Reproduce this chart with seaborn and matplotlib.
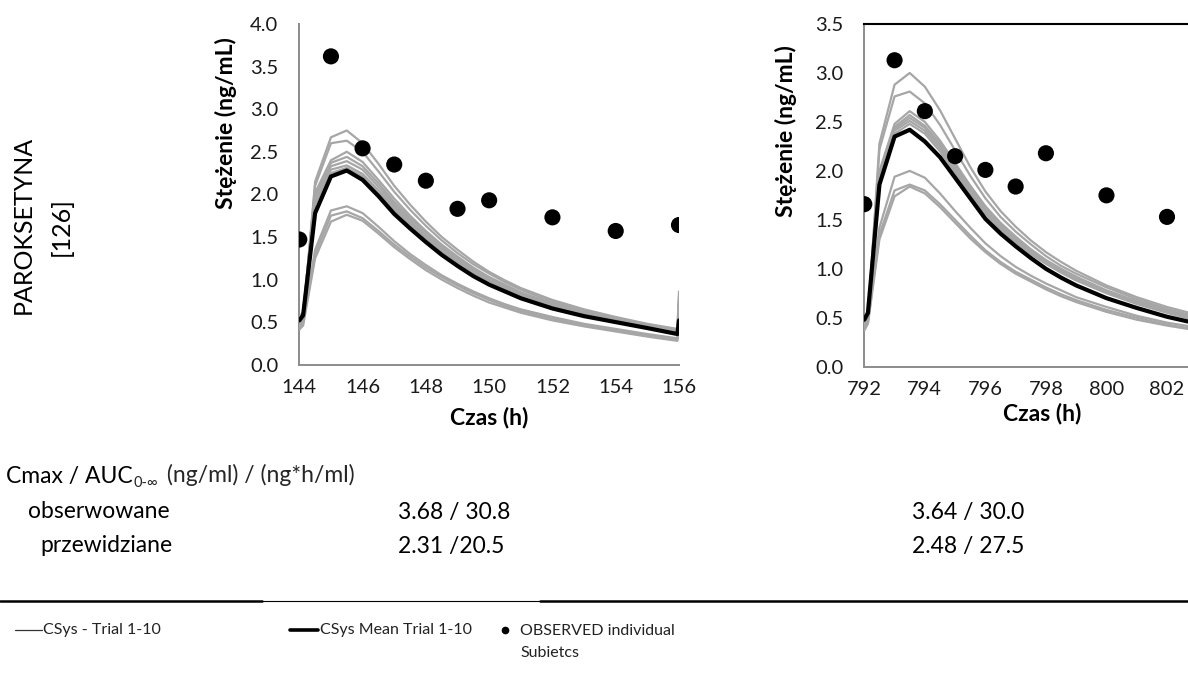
import matplotlib
matplotlib.use("Agg")
import matplotlib.pyplot as plt
import seaborn as sns
import pandas as pd
from matplotlib.lines import Line2D

# ---------------- data ----------------
t_left = [144, 144.12, 144.5, 145, 145.5, 146, 146.5, 147, 147.5, 148, 148.5, 149,
          149.5, 150, 150.5, 151, 152, 153, 154, 155, 155.95, 156]
mean_left = [0.52, 0.58, 1.78, 2.21, 2.28, 2.17, 1.98, 1.77, 1.60, 1.44, 1.29, 1.16,
             1.04, 0.94, 0.86, 0.78, 0.66, 0.57, 0.50, 0.43, 0.36, 0.52]
trials_left = [
    [0.47, 0.53, 2.15, 2.67, 2.75, 2.60, 2.36, 2.10, 1.88, 1.68, 1.50, 1.35, 1.21, 1.09, 0.99, 0.90, 0.76, 0.65, 0.56, 0.48, 0.42, 0.86],
    [0.50, 0.56, 2.10, 2.60, 2.63, 2.50, 2.27, 2.03, 1.82, 1.63, 1.46, 1.31, 1.18, 1.07, 0.97, 0.88, 0.74, 0.63, 0.55, 0.47, 0.41, 0.80],
    [0.55, 0.60, 2.02, 2.40, 2.50, 2.38, 2.17, 1.95, 1.75, 1.57, 1.41, 1.27, 1.14, 1.03, 0.94, 0.85, 0.72, 0.62, 0.54, 0.46, 0.40, 0.75],
    [0.53, 0.59, 1.98, 2.37, 2.44, 2.33, 2.13, 1.91, 1.72, 1.55, 1.39, 1.25, 1.12, 1.02, 0.93, 0.84, 0.71, 0.61, 0.53, 0.46, 0.40, 0.72],
    [0.56, 0.62, 1.95, 2.33, 2.39, 2.29, 2.09, 1.88, 1.69, 1.52, 1.37, 1.23, 1.11, 1.00, 0.91, 0.83, 0.70, 0.60, 0.52, 0.45, 0.39, 0.70],
    [0.54, 0.60, 1.90, 2.29, 2.34, 2.24, 2.05, 1.85, 1.66, 1.50, 1.35, 1.21, 1.09, 0.99, 0.90, 0.82, 0.69, 0.59, 0.51, 0.44, 0.38, 0.66],
    [0.52, 0.58, 1.88, 2.25, 2.31, 2.21, 2.02, 1.82, 1.64, 1.48, 1.33, 1.20, 1.08, 0.98, 0.89, 0.81, 0.69, 0.59, 0.51, 0.44, 0.38, 0.64],
    [0.45, 0.50, 1.35, 1.81, 1.86, 1.78, 1.62, 1.45, 1.30, 1.17, 1.05, 0.95, 0.86, 0.78, 0.71, 0.65, 0.56, 0.48, 0.42, 0.36, 0.31, 0.58],
    [0.43, 0.48, 1.30, 1.75, 1.80, 1.72, 1.57, 1.41, 1.27, 1.14, 1.03, 0.93, 0.84, 0.76, 0.69, 0.63, 0.54, 0.46, 0.40, 0.35, 0.30, 0.55],
    [0.41, 0.46, 1.25, 1.68, 1.76, 1.69, 1.54, 1.38, 1.24, 1.11, 1.00, 0.90, 0.81, 0.73, 0.67, 0.61, 0.52, 0.45, 0.39, 0.33, 0.28, 0.52],
]
obs_t_left = [144, 145, 146, 147, 148, 149, 150, 152, 154, 156]
obs_c_left = [1.47, 3.62, 2.54, 2.35, 2.16, 1.83, 1.93, 1.73, 1.57, 1.64]

t_right = [792, 792.12, 792.5, 793, 793.5, 794, 794.5, 795, 795.5, 796, 796.5, 797,
           797.5, 798, 798.5, 799, 800, 801, 802, 803]
mean_right = [0.48, 0.55, 1.86, 2.35, 2.42, 2.30, 2.14, 1.93, 1.72, 1.51, 1.36, 1.23,
              1.11, 1.00, 0.91, 0.83, 0.70, 0.60, 0.51, 0.44]
trials_right = [
    [0.40, 0.47, 2.28, 2.88, 3.00, 2.86, 2.62, 2.33, 2.04, 1.79, 1.59, 1.43, 1.29, 1.17, 1.07, 0.98, 0.83, 0.71, 0.61, 0.53],
    [0.42, 0.50, 2.22, 2.76, 2.81, 2.69, 2.47, 2.21, 1.95, 1.72, 1.53, 1.38, 1.25, 1.13, 1.03, 0.95, 0.81, 0.69, 0.59, 0.51],
    [0.46, 0.54, 2.00, 2.48, 2.61, 2.50, 2.31, 2.08, 1.85, 1.64, 1.47, 1.33, 1.20, 1.09, 1.00, 0.92, 0.78, 0.67, 0.58, 0.50],
    [0.47, 0.55, 1.97, 2.45, 2.57, 2.46, 2.28, 2.06, 1.83, 1.62, 1.45, 1.31, 1.19, 1.08, 0.99, 0.91, 0.77, 0.66, 0.57, 0.49],
    [0.45, 0.53, 1.94, 2.43, 2.54, 2.44, 2.26, 2.04, 1.81, 1.60, 1.44, 1.30, 1.18, 1.07, 0.98, 0.90, 0.77, 0.66, 0.56, 0.49],
    [0.48, 0.56, 1.92, 2.41, 2.51, 2.41, 2.23, 2.01, 1.79, 1.58, 1.42, 1.29, 1.17, 1.06, 0.97, 0.89, 0.76, 0.65, 0.56, 0.48],
    [0.44, 0.52, 1.90, 2.38, 2.48, 2.38, 2.20, 1.98, 1.77, 1.56, 1.40, 1.27, 1.15, 1.05, 0.96, 0.88, 0.75, 0.64, 0.55, 0.47],
    [0.42, 0.49, 1.42, 1.94, 2.00, 1.93, 1.77, 1.59, 1.42, 1.26, 1.13, 1.02, 0.93, 0.85, 0.78, 0.71, 0.61, 0.52, 0.45, 0.40],
    [0.38, 0.45, 1.35, 1.80, 1.86, 1.80, 1.66, 1.50, 1.34, 1.19, 1.07, 0.97, 0.89, 0.81, 0.74, 0.68, 0.58, 0.50, 0.43, 0.38],
    [0.37, 0.44, 1.30, 1.74, 1.84, 1.77, 1.63, 1.47, 1.31, 1.17, 1.05, 0.95, 0.87, 0.79, 0.72, 0.66, 0.56, 0.48, 0.42, 0.37],
]
obs_t_right = [792, 793, 794, 795, 796, 797, 798, 800, 802]
obs_c_right = [1.66, 3.13, 2.61, 2.15, 2.01, 1.84, 2.18, 1.75, 1.53]

drug_name = "PAROKSETYNA"
drug_ref = "[126]"
xlabel = "Czas (h)"
ylabel = "Stężenie (ng/mL)"
header_main = "Cmax / AUC"
header_sub = "0-\u221e"
header_rest = " (ng/ml) / (ng*h/ml)"
row_labels = ["obserwowane", "przewidziane"]
left_values = ["3.68 / 30.8", "2.31 /20.5"]
right_values = ["3.64 / 30.0", "2.48 / 27.5"]
legend_labels = ["CSys - Trial 1-10", "CSys Mean Trial 1-10", "OBSERVED individual\nSubietcs"]

# ---------------- style ----------------
sns.set_style("white")
plt.rcParams["font.family"] = ["Lato", "DejaVu Sans"]

GREY = "#a6a6a6"
AXC = "#8c8c8c"
W, H = 1188, 673

fig = plt.figure(figsize=(W / 100, H / 100), dpi=100)
axL = fig.add_axes([299.3 / W, 1 - 364.7 / H, 379.7 / W, 340.7 / H])
axR = fig.add_axes([864.3 / W, 1 - 366.7 / H, (W - 864.3) / W, 342.7 / H])


def long_df(t, trials):
    rows = []
    for i, tr in enumerate(trials):
        for tt, c in zip(t, tr):
            rows.append({"t": tt, "c": c, "trial": i})
    return pd.DataFrame(rows)


def draw(ax, t, trials, mean, ot, oc):
    sns.lineplot(data=long_df(t, trials), x="t", y="c", units="trial", estimator=None,
                 color=GREY, lw=1.6, ax=ax, zorder=2, legend=False)
    sns.lineplot(x=t, y=mean, color="black", lw=3.0, ax=ax, zorder=3)
    sns.scatterplot(x=ot, y=oc, color="black", s=135, edgecolor="none", ax=ax, zorder=4)
    ax.set_xlabel("")
    ax.set_ylabel("")
    for s in ("left", "bottom"):
        ax.spines[s].set_color(AXC)
        ax.spines[s].set_linewidth(1.4)
    ax.tick_params(axis="both", direction="out", length=6, width=1.3, color=AXC,
                   labelsize=14.5, labelcolor="#1a1a1a")
    ax.tick_params(axis="y", pad=9)
    ax.tick_params(axis="x", pad=4)
    ax.yaxis.set_major_formatter(matplotlib.ticker.FormatStrFormatter("%.1f"))


draw(axL, t_left, trials_left, mean_left, obs_t_left, obs_c_left)
axL.set_xlim(144, 156)
axL.set_ylim(0, 4.0)
axL.set_xticks(range(144, 157, 2))
axL.set_yticks([i * 0.5 for i in range(9)])
axL.spines["top"].set_visible(False)
axL.spines["right"].set_visible(False)

draw(axR, t_right, trials_right, mean_right, obs_t_right, obs_c_right)
axR.set_xlim(792, 792 + (W - 864.3) / 30.27)
axR.set_ylim(0, 3.5)
axR.set_xticks(range(792, 803, 2))
axR.set_yticks([i * 0.5 for i in range(8)])
axR.spines["right"].set_visible(False)
axR.spines["top"].set_color("black")
axR.spines["top"].set_linewidth(1.5)

for ax in (axL, axR):
    for sp in ax.spines.values():
        sp.set_zorder(1)

# axis labels
lab_kw = dict(fontsize=16.5, fontweight="bold", color="black")
fig.text(226 / W, 1 - 123 / H, ylabel, rotation=90, ha="center", va="center", **lab_kw)
fig.text(786 / W, 1 - 131 / H, ylabel, rotation=90, ha="center", va="center", **lab_kw)
fig.text(489 / W, 1 - 418 / H, xlabel, ha="center", va="center", **lab_kw)
fig.text(1042 / W, 1 - 414 / H, xlabel, ha="center", va="center", **lab_kw)

# drug name
fig.text(23 / W, 1 - 225 / H, drug_name, rotation=90, ha="center", va="center",
         fontsize=18, color="black")
fig.text(61 / W, 1 - 227 / H, drug_ref, rotation=90, ha="center", va="center",
         fontsize=18, color="black")

# table
tk = dict(fontsize=16.5, color="black", va="center")
t1 = fig.text(6 / W, 1 - 476 / H, header_main, **tk)
t2 = plt.annotate(header_sub, xy=(1, 0), xycoords=t1, xytext=(0.5, -2.5),
                  textcoords="offset points", fontsize=10.5, va="bottom", ha="left",
                  annotation_clip=False)
t3 = plt.annotate(header_rest, xy=(1, 0), xycoords=(t2, t1), xytext=(2, 0),
                  textcoords="offset points", fontsize=16.5, va="bottom", ha="left",
                  annotation_clip=False)
fig.text(28 / W, 1 - 512 / H, row_labels[0], **tk)
fig.text(40 / W, 1 - 546 / H, row_labels[1], **tk)
fig.text(398 / W, 1 - 512 / H, left_values[0], **tk)
fig.text(398 / W, 1 - 546 / H, left_values[1], **tk)
fig.text(912 / W, 1 - 512 / H, right_values[0], **tk)
fig.text(912 / W, 1 - 546 / H, right_values[1], **tk)

# horizontal rule
yr = 1 - 601 / H
fig.add_artist(Line2D([0, 262 / W], [yr, yr], color="black", lw=1.8, transform=fig.transFigure))
fig.add_artist(Line2D([262 / W, 540 / W], [yr, yr], color="black", lw=0.8, transform=fig.transFigure))
fig.add_artist(Line2D([540 / W, 1], [yr, yr], color="black", lw=1.8, transform=fig.transFigure))

# legend
ly = 1 - 630 / H
lk = dict(fontsize=11.5, color="#222222", va="center", ha="left")
fig.add_artist(Line2D([15 / W, 42 / W], [ly, ly], color="#333333", lw=0.9, transform=fig.transFigure))
fig.text(43 / W, ly, legend_labels[0], **lk)
fig.add_artist(Line2D([290 / W, 318 / W], [ly, ly], color="black", lw=2.6, transform=fig.transFigure))
fig.text(320 / W, ly, legend_labels[1], **lk)
fig.add_artist(Line2D([505 / W], [ly], marker="o", ms=4.5, color="black", lw=0, transform=fig.transFigure))
fig.text(520 / W, 1 - 642 / H, legend_labels[2], fontsize=11.5, color="#222222", va="center",
         ha="left", linespacing=1.7)

fig.savefig("out.png", dpi=100)
